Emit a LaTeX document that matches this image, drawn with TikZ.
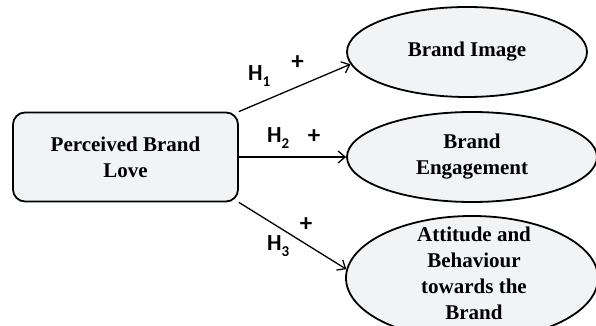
\documentclass[tikz,border=0pt]{standalone}
\usepackage{fontspec}
\setmainfont{Liberation Serif}
\newfontfamily\hypfont{Carlito}
\usetikzlibrary{shapes.geometric,arrows.meta}
\definecolor{boxfill}{RGB}{242,243,245}
\tikzset{
	construct/.style={draw, line width=1.8pt, fill=boxfill, align=center, font=\fontsize{21}{26}\selectfont\bfseries},
	latent/.style={construct, ellipse, inner sep=0pt},
	hyparrow/.style={-{Straight Barb[length=7pt,width=12pt]}, line width=1.3pt},
	hyplabel/.style={inner sep=0pt, font=\hypfont\bfseries\fontsize{23}{23}\selectfont},
}
\newcommand{\hypsub}[1]{H\raisebox{-6pt}{\fontsize{15}{15}\selectfont #1}}
\begin{document}
\begin{tikzpicture}[x=1pt, y=1pt]
	\useasboundingbox (0,0) rectangle (596,326);
	\clip (0,0) rectangle (596,326);
	\node [construct, rounded corners=12pt, minimum width=225pt, minimum height=89pt] (love) at (125.5,169) {Perceived Brand\\Love};
	\node [latent, minimum width=240pt, minimum height=90pt] (image) at (467,274) {Brand Image};
	\node [latent, minimum width=250pt, minimum height=90pt] (engage) at (472,169) {Brand\\Engagement};
	\node [latent, minimum width=252pt, minimum height=124pt] (attitude) at (472,48) {};
	\node [align=center, font=\fontsize{21}{26}\selectfont\bfseries] (attitudetext) at (474,53) {Attitude and\\Behaviour\\towards the\\Brand};
	\draw [hyparrow] (love.north east) -- (image.186);
	\draw [hyparrow] (love.east) -- (engage.west);
	\draw [hyparrow] (love.south east) -- (attitude.176);
	\node [hyplabel, anchor=base west] (h1) at (248,245) {\hypsub{1}};
	\node [hyplabel, font=\hypfont\bfseries\fontsize{25}{25}\selectfont] (plus1) at (297.5,263) {+};
	\node [hyplabel, anchor=base west] (h2) at (267,183) {\hypsub{2}};
	\node [hyplabel, font=\hypfont\bfseries\fontsize{25}{25}\selectfont] (plus2) at (314,189) {+};
	\node [hyplabel, anchor=base west] (h3) at (267,75) {\hypsub{3}};
	\node [hyplabel, font=\hypfont\bfseries\fontsize{25}{25}\selectfont] (plus3) at (306,101) {+};
\end{tikzpicture}
\end{document}
